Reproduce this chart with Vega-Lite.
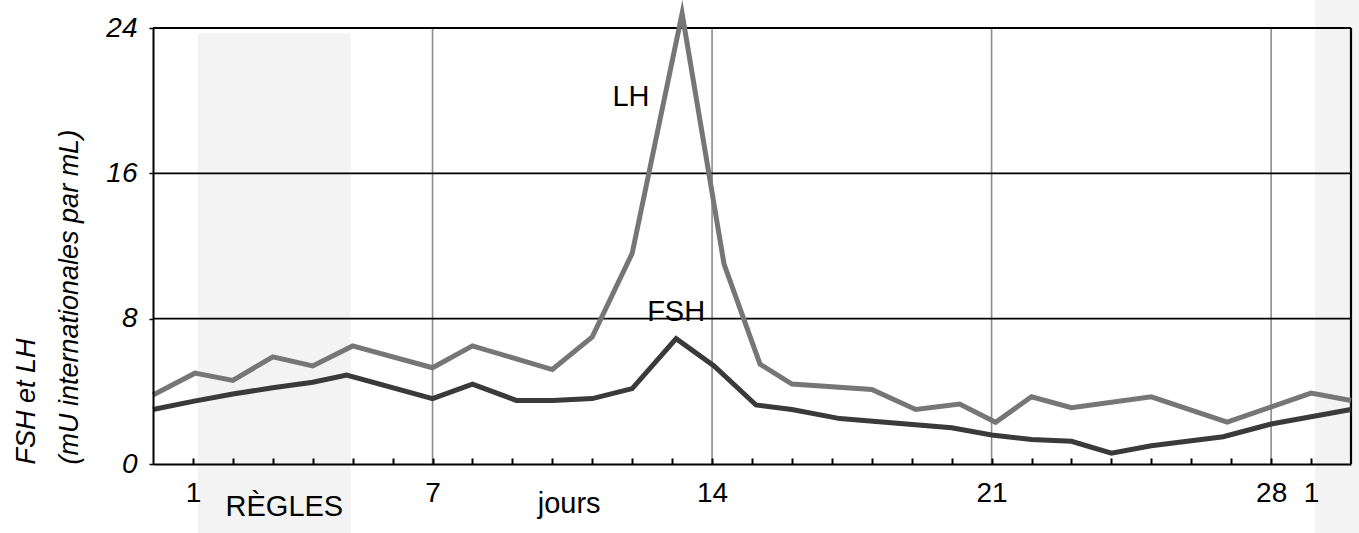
{
  "$schema": "https://vega.github.io/schema/vega-lite/v6.json",
  "width": 1198,
  "height": 436,
  "autosize": "none",
  "padding": {"left": 153, "top": 28, "right": 8, "bottom": 69},
  "background": "white",
  "config": {"view": {"stroke": null}, "font": "Liberation Sans"},
  "datasets": {
    "hormones": [
      {"jour": 0, "hormone": "LH", "taux": 3.8},
      {"jour": 1.05, "hormone": "LH", "taux": 5.0},
      {"jour": 2, "hormone": "LH", "taux": 4.6},
      {"jour": 3, "hormone": "LH", "taux": 5.9},
      {"jour": 4, "hormone": "LH", "taux": 5.4},
      {"jour": 5, "hormone": "LH", "taux": 6.5},
      {"jour": 7, "hormone": "LH", "taux": 5.3},
      {"jour": 8, "hormone": "LH", "taux": 6.5},
      {"jour": 10, "hormone": "LH", "taux": 5.2},
      {"jour": 11, "hormone": "LH", "taux": 7.0},
      {"jour": 12, "hormone": "LH", "taux": 11.6},
      {"jour": 13.25, "hormone": "LH", "taux": 24.8},
      {"jour": 14.3, "hormone": "LH", "taux": 11.0},
      {"jour": 15.2, "hormone": "LH", "taux": 5.5},
      {"jour": 16, "hormone": "LH", "taux": 4.4},
      {"jour": 18, "hormone": "LH", "taux": 4.1},
      {"jour": 19.1, "hormone": "LH", "taux": 3.0},
      {"jour": 20.2, "hormone": "LH", "taux": 3.3},
      {"jour": 21.1, "hormone": "LH", "taux": 2.3},
      {"jour": 22, "hormone": "LH", "taux": 3.7},
      {"jour": 23, "hormone": "LH", "taux": 3.1},
      {"jour": 25, "hormone": "LH", "taux": 3.7},
      {"jour": 26.9, "hormone": "LH", "taux": 2.3},
      {"jour": 29, "hormone": "LH", "taux": 3.9},
      {"jour": 30, "hormone": "LH", "taux": 3.5},
      {"jour": 0, "hormone": "FSH", "taux": 3.0},
      {"jour": 1, "hormone": "FSH", "taux": 3.45},
      {"jour": 2, "hormone": "FSH", "taux": 3.85},
      {"jour": 3, "hormone": "FSH", "taux": 4.2},
      {"jour": 4, "hormone": "FSH", "taux": 4.5},
      {"jour": 4.85, "hormone": "FSH", "taux": 4.9},
      {"jour": 7, "hormone": "FSH", "taux": 3.6},
      {"jour": 8, "hormone": "FSH", "taux": 4.4},
      {"jour": 9.1, "hormone": "FSH", "taux": 3.5},
      {"jour": 10, "hormone": "FSH", "taux": 3.5},
      {"jour": 11, "hormone": "FSH", "taux": 3.6},
      {"jour": 12, "hormone": "FSH", "taux": 4.15},
      {"jour": 13.1, "hormone": "FSH", "taux": 6.9},
      {"jour": 14.05, "hormone": "FSH", "taux": 5.4},
      {"jour": 15.1, "hormone": "FSH", "taux": 3.25},
      {"jour": 16, "hormone": "FSH", "taux": 3.0},
      {"jour": 17.2, "hormone": "FSH", "taux": 2.5},
      {"jour": 20, "hormone": "FSH", "taux": 2.0},
      {"jour": 21, "hormone": "FSH", "taux": 1.6},
      {"jour": 22, "hormone": "FSH", "taux": 1.35},
      {"jour": 23, "hormone": "FSH", "taux": 1.25},
      {"jour": 24, "hormone": "FSH", "taux": 0.6},
      {"jour": 25, "hormone": "FSH", "taux": 1.0},
      {"jour": 26.8, "hormone": "FSH", "taux": 1.5},
      {"jour": 28, "hormone": "FSH", "taux": 2.2},
      {"jour": 30, "hormone": "FSH", "taux": 3.0}
    ],
    "regles": [
      {"jour": 1.12, "jour2": 4.95, "taux": 23.7, "taux2": -3.8},
      {"jour": 29.1, "jour2": 30.3, "taux": 25.8, "taux2": -3.8}
    ],
    "hgrid": [
      {"jour": 0, "jour2": 30, "taux": 8},
      {"jour": 0, "jour2": 30, "taux": 16},
      {"jour": 0, "jour2": 30, "taux": 24}
    ],
    "vgrid": [
      {"jour": 7, "taux": 0, "taux2": 24},
      {"jour": 14, "taux": 0, "taux2": 24},
      {"jour": 21, "taux": 0, "taux2": 24},
      {"jour": 28, "taux": 0, "taux2": 24}
    ],
    "bord": [
      {"jour": 30, "taux": 0, "taux2": 24}
    ],
    "etiquettes": [
      {"jour": 11.97, "taux": 20.2, "texte": "LH"},
      {"jour": 13.1, "taux": 8.35, "texte": "FSH"}
    ],
    "sousaxe": [
      {"jour": 3.29, "taux": -2.85, "texte": "RÈGLES"},
      {"jour": 10.42, "taux": -2.7, "texte": "jours"}
    ]
  },
  "encoding": {
    "x": {
      "field": "jour",
      "type": "quantitative",
      "scale": {"domain": [0, 30], "nice": false, "zero": false},
      "axis": {
        "values": [1,2,3,4,5,6,7,8,9,10,11,12,13,14,15,16,17,18,19,20,21,22,23,24,25,26,27,28,29],
        "labelExpr": "datum.value == 29 ? '1' : (indexof([1,7,14,21,28], datum.value) >= 0 ? datum.label : '')",
        "title": null,
        "grid": false,
        "zindex": 1,
        "domainColor": "black",
        "domainWidth": 2,
        "tickColor": "black",
        "tickWidth": 2,
        "tickSize": -6,
        "labelPadding": 21,
        "labelFontSize": 28,
        "labelColor": "black",
        "labelFont": "Liberation Sans",
        "labelFlush": false,
        "labelOverlap": false,
        "labelBound": false
      }
    },
    "y": {
      "field": "taux",
      "type": "quantitative",
      "scale": {"domain": [0, 24], "nice": false, "zero": false},
      "axis": {
        "values": [0, 8, 16, 24],
        "grid": false,
        "zindex": 1,
        "domainColor": "black",
        "domainWidth": 2,
        "tickColor": "black",
        "tickWidth": 1.5,
        "tickSize": 4,
        "labelPadding": 12,
        "labelFont": "Liberation Sans",
        "labelFontStyle": "italic",
        "labelFontSize": 28,
        "labelColor": "black",
        "title": ["FSH et LH", "(mU internationales par mL)"],
        "titleFont": "Liberation Sans",
        "titleFontStyle": "italic",
        "titleFontWeight": "normal",
        "titleFontSize": 27,
        "titleColor": "black",
        "titleAnchor": "start",
        "titleLineHeight": 43,
        "titlePadding": 22
      }
    }
  },
  "layer": [
    {
      "data": {"name": "regles"},
      "mark": {"type": "rect", "color": "#f3f3f3", "clip": false},
      "encoding": {
        "x2": {"field": "jour2"},
        "y2": {"field": "taux2"}
      }
    },
    {
      "data": {"name": "vgrid"},
      "mark": {"type": "rule", "color": "#8c8c8c", "strokeWidth": 1.6},
      "encoding": {"y2": {"field": "taux2"}}
    },
    {
      "data": {"name": "hgrid"},
      "mark": {"type": "rule", "color": "black", "strokeWidth": 1.8},
      "encoding": {"x2": {"field": "jour2"}}
    },
    {
      "data": {"name": "bord"},
      "mark": {"type": "rule", "color": "black", "strokeWidth": 2.2},
      "encoding": {"y2": {"field": "taux2"}}
    },
    {
      "data": {"name": "hormones"},
      "mark": {"type": "line", "strokeWidth": 5, "strokeJoin": "miter", "strokeMiterLimit": 10},
      "encoding": {
        "color": {
          "field": "hormone",
          "type": "nominal",
          "scale": {"domain": ["LH", "FSH"], "range": ["#767676", "#3a3a3a"]},
          "legend": null
        },
        "order": {"field": "jour", "type": "quantitative"}
      }
    },
    {
      "data": {"name": "etiquettes"},
      "mark": {"type": "text", "fontSize": 29, "color": "black", "font": "Liberation Sans", "baseline": "middle", "align": "center"},
      "encoding": {"text": {"field": "texte"}}
    },
    {
      "data": {"name": "sousaxe"},
      "mark": {"type": "text", "fontSize": 29, "color": "black", "font": "Liberation Sans", "baseline": "alphabetic", "align": "center", "clip": false},
      "encoding": {"text": {"field": "texte"}}
    }
  ]
}
